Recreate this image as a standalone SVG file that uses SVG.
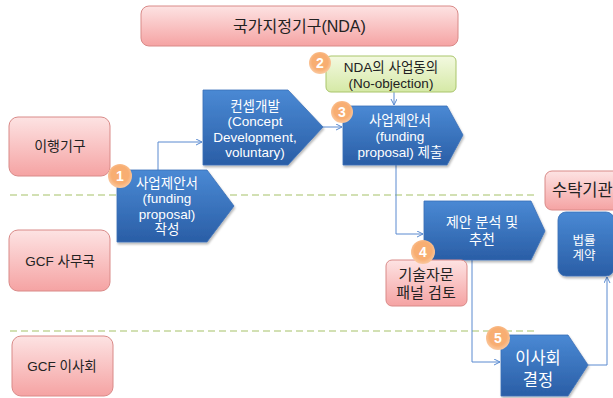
<svg xmlns="http://www.w3.org/2000/svg" width="613" height="398" viewBox="0 0 613 398">
<defs>
<linearGradient id="gRed" x1="0" y1="0" x2="0" y2="1">
<stop offset="0" stop-color="#fde3e3"/>
<stop offset="1" stop-color="#f5a3a3"/>
</linearGradient>
<linearGradient id="gBlue" x1="0" y1="0" x2="0" y2="1">
<stop offset="0" stop-color="#4a89d4"/>
<stop offset="1" stop-color="#2a5ea6"/>
</linearGradient>
<linearGradient id="gGreen" x1="0" y1="0" x2="0" y2="1">
<stop offset="0" stop-color="#f3f9e0"/>
<stop offset="1" stop-color="#d5e9a6"/>
</linearGradient>
<radialGradient id="gOrange" cx="0.5" cy="0.45" r="0.6">
<stop offset="0.6" stop-color="#f8ae72"/>
<stop offset="1" stop-color="#fbd0ad"/>
</radialGradient>
<filter id="sh" x="-10%" y="-10%" width="125%" height="130%">
<feDropShadow dx="1" dy="2" stdDeviation="1.2" flood-color="#000" flood-opacity="0.28"/>
</filter>
<marker id="arr" markerWidth="8" markerHeight="8" refX="6" refY="3" orient="auto" markerUnits="userSpaceOnUse">
<path d="M0,0 L6,3 L0,6" fill="none" stroke="#5a8ad0" stroke-width="1"/>
</marker>
</defs>
<style>
text{font-family:"Liberation Sans","Noto Sans CJK KR",sans-serif;text-anchor:middle}
.red{fill:url(#gRed);stroke:#d98a88;stroke-width:1}
.blue{fill:url(#gBlue);stroke:#3b70b8;stroke-width:0.8;filter:url(#sh)}
.green{fill:url(#gGreen);stroke:#a9c56a;stroke-width:1}
.badge{fill:url(#gOrange)}
.num{fill:#fff;font-weight:bold}
.dark{fill:#222}
.wt{fill:#fff}
.dash{stroke:#c3d69b;stroke-width:1.5;stroke-dasharray:7 4;fill:none}
.con{stroke:#5a8ad0;stroke-width:1;fill:none}
</style>

<g id="lanes">
<line class="dash" x1="10" y1="195" x2="536" y2="195"/>
<line class="dash" x1="10" y1="331" x2="538" y2="331"/>
</g>

<g id="nda">
<rect class="red" x="141" y="6" width="317" height="40" rx="8"/>
<text class="dark" x="299.5" y="32" font-size="16">국가지정기구(NDA)</text>
</g>
<g id="lane-impl">
<rect class="red" x="9" y="117" width="101" height="59" rx="9"/>
<text class="dark" x="60" y="151" font-size="14">이행기구</text>
</g>
<g id="lane-sec">
<rect class="red" x="9" y="230" width="101" height="61" rx="9"/>
<text class="dark" x="60" y="266" font-size="13.5">GCF 사무국</text>
</g>
<g id="lane-board">
<rect class="red" x="12" y="336" width="101" height="60" rx="9"/>
<text class="dark" x="62" y="371" font-size="13.5">GCF 이사회</text>
</g>

<g id="connectors">
<path class="con" d="M158,170 V142 H202" marker-end="url(#arr)"/>
<path class="con" d="M323,127 H342" marker-end="url(#arr)"/>
<path class="con" d="M394,92 V105" marker-end="url(#arr)"/>
<path class="con" d="M396,165 V234 H423" marker-end="url(#arr)"/>
<path class="con" d="M472,260 V362 H500" marker-end="url(#arr)"/>
<path class="con" d="M588,365 H607 V277" marker-end="url(#arr)"/>
</g>

<g id="concept">
<polygon class="blue" points="203,90 288,90 323,127 288,165 203,165"/>
<text class="wt" x="255" y="110.5" font-size="13.5">컨셉개발</text>
<text class="wt" x="255" y="126" font-size="13.5">(Concept</text>
<text class="wt" x="255" y="141.5" font-size="13.5">Development,</text>
<text class="wt" x="255" y="157" font-size="13.5">voluntary)</text>
</g>

<g id="step1">
<polygon class="blue" points="117,170 207,170 234,206 207,242 117,242"/>
<text class="wt" x="167" y="187.5" font-size="13.5">사업제안서</text>
<text class="wt" x="167" y="203" font-size="13.5">(funding</text>
<text class="wt" x="167" y="218.5" font-size="13.5">proposal)</text>
<text class="wt" x="167" y="234" font-size="13.5">작성</text>
<circle class="badge" cx="120" cy="176" r="12"/>
<text class="num" x="120" y="181" font-size="14">1</text>
</g>

<g id="step2">
<rect class="green" x="326" y="56" width="130" height="36" rx="5"/>
<text class="dark" x="391" y="71.5" font-size="13.5">NDA의 사업동의</text>
<text class="dark" x="391" y="87.5" font-size="13.5">(No-objection)</text>
<circle class="badge" cx="320" cy="63" r="11"/>
<text class="num" x="320" y="68" font-size="14">2</text>
</g>

<g id="step3">
<polygon class="blue" points="343,106 447,106 463,135 447,165 343,165"/>
<text class="wt" x="400" y="124.5" font-size="13.5">사업제안서</text>
<text class="wt" x="400" y="141" font-size="13.5">(funding</text>
<text class="wt" x="400" y="157" font-size="13.5">proposal) 제출</text>
<circle class="badge" cx="342" cy="112" r="11"/>
<text class="num" x="342" y="117" font-size="14">3</text>
</g>

<g id="step4">
<polygon class="blue" points="424,201 531,201 545,231 531,260 424,260"/>
<text class="wt" x="482" y="226.5" font-size="14">제안 분석 및</text>
<text class="wt" x="482" y="243.5" font-size="14">추천</text>
<rect class="red" x="386" y="260" width="81" height="46" rx="6"/>
<text class="dark" x="426" y="280" font-size="15">기술자문</text>
<text class="dark" x="426" y="298" font-size="15">패널 검토</text>
<circle class="badge" cx="423" cy="252" r="12"/>
<text class="num" x="423" y="257" font-size="14">4</text>
</g>

<g id="step5">
<polygon class="blue" points="501,335 568,335 588,365 568,396 501,396"/>
<text class="wt" x="538" y="364" font-size="16.5">이사회</text>
<text class="wt" x="538" y="386" font-size="16.5">결정</text>
<circle class="badge" cx="498" cy="338" r="12"/>
<text class="num" x="498" y="343" font-size="14">5</text>
</g>

<g id="trustee">
<rect class="red" x="545" y="171" width="80" height="39" rx="7"/>
<text class="dark" x="552" y="196" font-size="16.5" style="text-anchor:start">수탁기관</text>
</g>

<g id="contract">
<rect class="blue" x="558" y="212" width="56" height="64" rx="8"/>
<text class="wt" x="584" y="245" font-size="12.5">법률</text>
<text class="wt" x="584" y="259.5" font-size="12.5">계약</text>
</g>
</svg>
